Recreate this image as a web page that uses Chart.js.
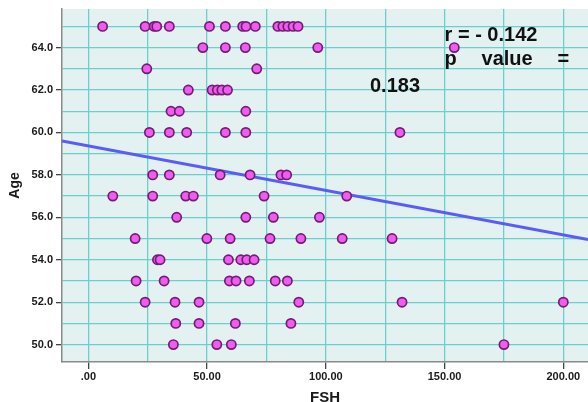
<!DOCTYPE html>
<html>
<head>
<meta charset="utf-8">
<script src="https://cdn.jsdelivr.net/npm/chart.js@4.4.1/dist/chart.umd.min.js"></script>
<style>
  html, body { margin: 0; padding: 0; background: #fff; }
  canvas { display: block; }
</style>
</head>
<body>
<canvas id="chart" width="588" height="402"></canvas>
<script>
// FSH (x) vs Age (y), one entry per subject
const fshValues = [
  6, 23.9, 27.7, 28.8, 34.1, 51, 57.7, 65, 66.4, 70.3, 79.8, 81.9, 84, 86.2, 88.3,
  48.2, 57.7, 66.1, 96.6, 154.1,
  24.6, 70.9,
  42.1, 52.1, 54.3, 56.2, 58.6,
  34.8, 38.3, 66.3,
  25.7, 34.1, 41.4, 57.7, 66.3, 131.2,
  27.1, 34.1, 55.5, 68.1, 81.1, 83.5,
  10.3, 27.1, 41, 44.2, 74, 108.8,
  37.2, 66.3, 77.9, 97.3,
  19.7, 49.9, 59.7, 76.5, 89.5, 106.9, 127.9,
  29.1, 30.2, 59, 64.2, 66.7, 69.8,
  20.1, 31.9, 59.4, 62.2, 67.8, 78.7, 83.8,
  23.9, 36.5, 46.6, 88.6, 132.1, 200,
  36.8, 46.6, 61.9, 85.3,
  35.8, 54.1, 60.2, 175
];
const ageValues = [
  65, 65, 65, 65, 65, 65, 65, 65, 65, 65, 65, 65, 65, 65, 65,
  64, 64, 64, 64, 64,
  63, 63,
  62, 62, 62, 62, 62,
  61, 61, 61,
  60, 60, 60, 60, 60, 60,
  58, 58, 58, 58, 58, 58,
  57, 57, 57, 57, 57, 57,
  56, 56, 56, 56,
  55, 55, 55, 55, 55, 55, 55,
  54, 54, 54, 54, 54, 54,
  53, 53, 53, 53, 53, 53, 53,
  52, 52, 52, 52, 52, 52,
  51, 51, 51, 51,
  50, 50, 50, 50
];

// fit line end points (at the plot edges)
const fitX = [-11.1, 210.4];
const fitY = [59.6, 54.95];

const xTicks = [0, 25, 50, 75, 100, 125, 150, 175, 200];
const yTicks = [50, 51, 52, 53, 54, 55, 56, 57, 58, 59, 60, 61, 62, 63, 64, 65];

const statsLines = ['r = - 0.142', 'p', 'value', '=', '0.183'];

const FONT = '"Liberation Sans", Arial, sans-serif';

const plotBg = {
    id: 'plotBg',
    beforeDraw(chart) {
        const { ctx, chartArea: a } = chart;
        ctx.save();
        ctx.fillStyle = '#e3f2f1';
        ctx.fillRect(a.left, a.top, a.right - a.left, a.bottom - a.top);
        ctx.restore();
    }
};

const statsText = {
    id: 'statsText',
    afterDatasetsDraw(chart) {
        const { ctx, scales: { x } } = chart;
        const x0 = x.getPixelForValue(150);
        ctx.save();
        ctx.fillStyle = '#111';
        ctx.font = 'bold 20px ' + FONT;
        ctx.textBaseline = 'alphabetic';
        ctx.fillText(statsLines[0], x0, 41);
        ctx.fillText(statsLines[1], x0, 65);
        ctx.fillText(statsLines[2], x0 + 37, 65);
        ctx.fillText(statsLines[3], x0 + 113, 65);
        ctx.fillText(statsLines[4], x.getPixelForValue(118.6), 92);
        ctx.restore();
    }
};

const data = {
    datasets: [
        {
            type: 'line',
            data: fitX.map((v, i) => ({ x: v, y: fitY[i] })),
            borderColor: '#5a5cf8',
            borderWidth: 3,
            pointRadius: 0,
            fill: false,
            order: 2
        },
        {
            type: 'scatter',
            data: fshValues.map((v, i) => ({ x: v, y: ageValues[i] })),
            backgroundColor: '#ef5cef',
            borderColor: '#741c74',
            borderWidth: 1.7,
            pointRadius: 4.6,
            order: 1
        }
    ]
};

new Chart(document.getElementById('chart'), {
    type: 'scatter',
    data,
    options: {
        responsive: false,
        animation: false,
        layout: { autoPadding: false, padding: { top: 9, right: 0, bottom: 0, left: 0 } },
        plugins: { legend: { display: false }, tooltip: { enabled: false } },
        scales: {
            x: {
                type: 'linear',
                min: -11.1,
                max: 210.4,
                afterBuildTicks: (s) => { s.ticks = xTicks.map(v => ({ value: v })); },
                afterFit: (s) => { s.height = 40; s.paddingLeft = 0; s.paddingRight = 0; },
                border: { color: '#8a8a8a', width: 1.5 },
                grid: {
                    color: '#6bcfce',
                    lineWidth: 1.3,
                    tickLength: 7,
                    tickColor: (c) => (c.tick && c.tick.value % 50 === 0 ? '#444' : 'rgba(0,0,0,0)')
                },
                ticks: {
                    autoSkip: false,
                    maxRotation: 0,
                    padding: 1,
                    color: '#1a1a1a',
                    font: { family: FONT, size: 11, weight: 'bold' },
                    callback: (v) => (v % 50 !== 0 ? '' : v === 0 ? '.00' : v.toFixed(2))
                },
                title: {
                    display: true,
                    text: 'FSH',
                    color: '#1a1a1a',
                    padding: { top: 0, bottom: -5 },
                    font: { family: FONT, size: 15, weight: 'bold' }
                }
            },
            y: {
                type: 'linear',
                min: 49.18,
                max: 65.82,
                afterBuildTicks: (s) => { s.ticks = yTicks.map(v => ({ value: v })); },
                afterFit: (s) => { s.width = 62; s.paddingTop = 0; s.paddingBottom = 0; },
                border: { color: '#8a8a8a', width: 1.5 },
                grid: {
                    color: '#6bcfce',
                    lineWidth: 1.3,
                    tickLength: 6,
                    tickColor: (c) => (c.tick && c.tick.value % 2 === 0 ? '#444' : 'rgba(0,0,0,0)')
                },
                ticks: {
                    autoSkip: false,
                    padding: 3,
                    color: '#1a1a1a',
                    font: { family: FONT, size: 11, weight: 'bold' },
                    callback: (v) => (v % 2 === 0 ? v.toFixed(1) : '')
                },
                title: {
                    display: true,
                    text: 'Age',
                    color: '#1a1a1a',
                    padding: { top: 7, bottom: 0 },
                    font: { family: FONT, size: 14, weight: 'bold' }
                }
            }
        }
    },
    plugins: [plotBg, statsText]
});
</script>
</body>
</html>
